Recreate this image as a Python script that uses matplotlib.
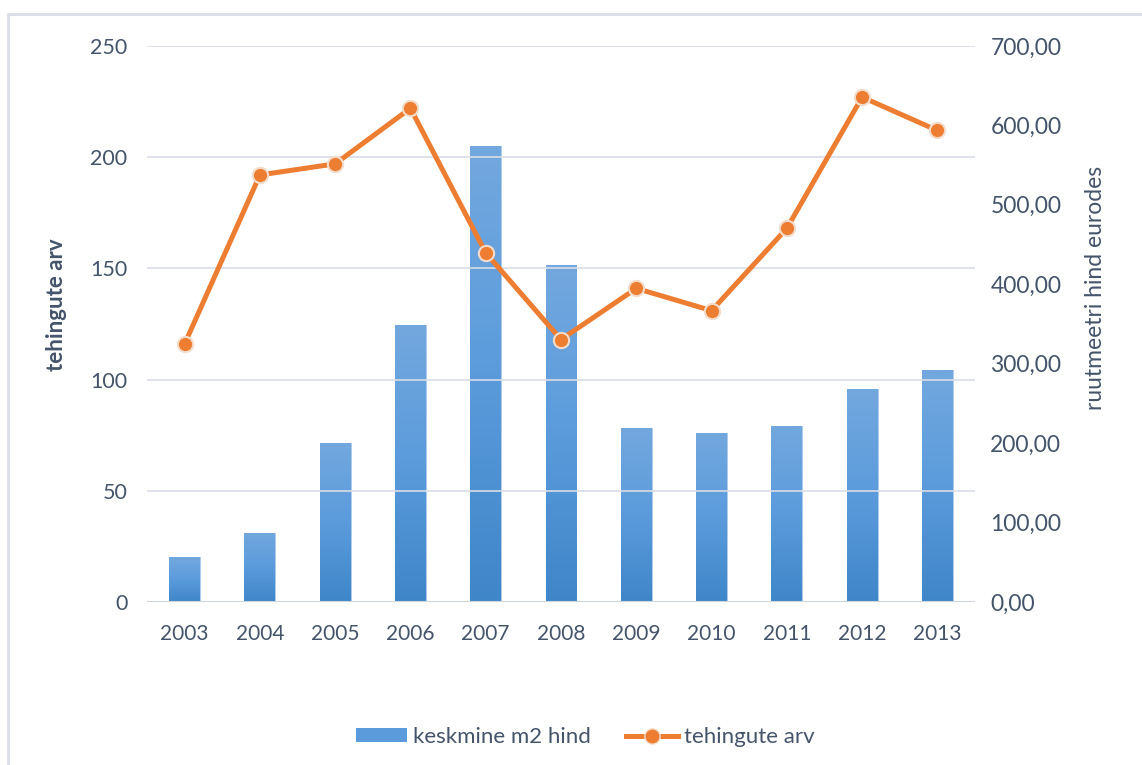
import numpy as np
import matplotlib.pyplot as plt
from matplotlib.patches import Rectangle
from matplotlib.lines import Line2D
from matplotlib.colors import LinearSegmentedColormap

plt.rcParams['font.family'] = ['Lato', 'DejaVu Sans']

years = ['2003', '2004', '2005', '2006', '2007', '2008', '2009', '2010', '2011', '2012', '2013']
m2_price = [56, 87, 200, 349, 574, 424, 219, 213, 221, 268, 292]
deals = [116, 192, 197, 222, 157, 118, 141, 131, 168, 227, 212]

txt = '#44546a'
grid_c = '#d9dde6'
orange = '#ed7d31'

fig = plt.figure(figsize=(11.42, 7.65), dpi=100)
fig.patches.append(Rectangle((8 / 1142, -0.05), 1.1, 1 - 14 / 765 + 0.05,
                             transform=fig.transFigure, fill=False,
                             edgecolor='#d9dde6', lw=2))

ax1 = fig.add_axes([0.1287, 0.2131, 0.7251, 0.7268])
ax2 = ax1.twinx()
x = np.arange(len(years))

# bars (price) on right axis, with vertical gradient
cmap = LinearSegmentedColormap.from_list('g', ['#3f86c8', '#5b9bdc', '#72a8de'])
grad = np.linspace(0, 1, 100).reshape(-1, 1)
bars = ax2.bar(x, m2_price, width=0.41, color='none', edgecolor='#9dc3e6', lw=0.6)
for b in bars:
    x0, w, h = b.get_x(), b.get_width(), b.get_height()
    im = ax2.imshow(grad, extent=[x0, x0 + w, 0, h], origin='lower', cmap=cmap,
                    aspect='auto', zorder=1)
    im.set_clip_path(b)
ax2.set_ylim(0, 700)
ax2.set_xlim(-0.5, len(years) - 0.5)
ax2.set_yticks(range(0, 701, 100))
ax2.set_yticklabels([f'{v},00' for v in range(0, 701, 100)])
ax2.set_ylabel('ruutmeetri hind eurodes', color=txt, fontsize=16.5, labelpad=17,
               y=0.565)

# line (deals) on left axis
ax1.set_zorder(ax2.get_zorder() + 1)
ax1.patch.set_visible(False)
ax1.plot(x, deals, color=orange, lw=3.6, marker='o', markersize=11,
         markerfacecolor=orange, markeredgecolor='#f3dccb', markeredgewidth=1.5,
         solid_joinstyle='round', zorder=5)
ax1.set_ylim(0, 250)
ax1.set_yticks(range(0, 251, 50))
ax1.set_xlim(-0.5, len(years) - 0.5)
ax1.set_xticks(x)
ax1.set_xticklabels(years)
ax1.set_ylabel('tehingute arv', color=txt, fontsize=16, fontweight='bold', labelpad=17,
               y=0.534)
ax1.grid(axis='y', color=grid_c, lw=1.2)
ax1.set_axisbelow(True)

for ax in (ax1, ax2):
    for s in ax.spines.values():
        s.set_visible(False)
    ax.tick_params(length=0, labelsize=15.5, colors=txt)
ax1.tick_params(axis='x', labelsize=15, pad=16)
ax1.tick_params(axis='y', pad=14)
ax2.tick_params(axis='y', labelsize=16.5, pad=11)
ax1.axhline(0, color='#d0d4dc', lw=1.5, zorder=2)

handles = [Rectangle((0, 0), 1, 1, facecolor='#5b9bdc', edgecolor='none'),
           Line2D([], [], color=orange, lw=3.6, marker='o', markersize=11,
                  markerfacecolor=orange, markeredgecolor='#f3dccb')]
fig.legend(handles, ['keskmine m2 hind', 'tehingute arv'], loc='center',
           bbox_to_anchor=(585 / 1142, 1 - 737 / 765), ncol=2, frameon=False,
           fontsize=16, labelcolor=txt, handlelength=2.3, handleheight=0.55,
           handletextpad=0.27, columnspacing=1.6)

fig.savefig('out.png', dpi=100)
